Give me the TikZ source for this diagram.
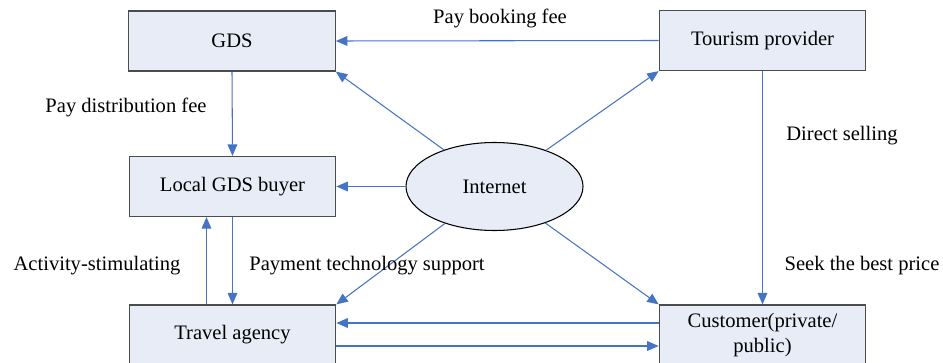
\documentclass[tikz,border=0pt]{standalone}
\usepackage{fontspec}
\setmainfont{Liberation Serif}
\usetikzlibrary{shapes.geometric,arrows.meta}
\definecolor{boxfill}{RGB}{231,236,247}
\definecolor{linkblue}{RGB}{70,116,196}
\tikzset{
    box/.style={draw=black!70, fill=boxfill, line width=0.7pt, minimum width=4.13cm, minimum height=1.2cm, align=center},
    net/.style={draw=black, fill=boxfill, ellipse, line width=0.6pt, minimum width=3.54cm, minimum height=1.76cm},
    link/.style={draw=linkblue, line width=0.6pt, -{Triangle[length=6.5pt,width=5.5pt]}},
    lbl/.style={inner sep=0pt}
}

\begin{document}
\begin{tikzpicture}[font=\fontsize{11.7}{14.6}\selectfont]
    \clip (0,0) rectangle (18.86,7.24);
    % Draw the boxes and the ellipse
    \node[box] (gds) at (4.64, 6.42) {GDS};
    \node[box] (tour) at (15.25, 6.43) {Tourism provider};
    \node[box] (local) at (4.65, 3.51) {Local GDS buyer};
    \node[net] (inet) at (9.89, 3.51) {Internet};
    \node[box] (travel) at (4.65, 0.54) {Travel agency};
    \node[box] (cust) at (15.25, 0.54) {Customer(private/\\public)};
    % Arrows between the boxes
    \draw[link] (tour.west) -- (gds.east);
    \draw[link] (gds.south) -- (local.north);
    \draw[link] (tour.south) -- (cust.north);
    \draw[link] ([xshift=-0.52cm]travel.north) -- ([xshift=-0.52cm]local.south);
    \draw[link] (local.south) -- (travel.north);
    \draw[link] ([yshift=0.24cm]cust.west) -- ([yshift=0.24cm]travel.east);
    \draw[link] ([yshift=-0.22cm]travel.east) -- ([yshift=-0.22cm]cust.west);
    % Arrows out of the Internet
    \foreach \t/\a in {gds/south east, tour/south west, local/east, travel/north east, cust/north west} {
        \draw[link] (inet) -- (\t.\a);
    }
    % Add labels
    \node[lbl] (booking) at (10.0, 6.88) {Pay booking fee};
    \node[lbl] (distrib) at (2.52, 5.10) {Pay distribution fee};
    \node[lbl] (direct) at (16.84, 4.52) {Direct selling};
    \node[lbl] (seek) at (17.24, 1.92) {Seek the best price};
    \node[lbl] (stim) at (1.94, 1.92) {Activity-stimulating};
    \node[lbl] (paytech) at (7.34, 1.92) {Payment technology support};
\end{tikzpicture}
\end{document}
